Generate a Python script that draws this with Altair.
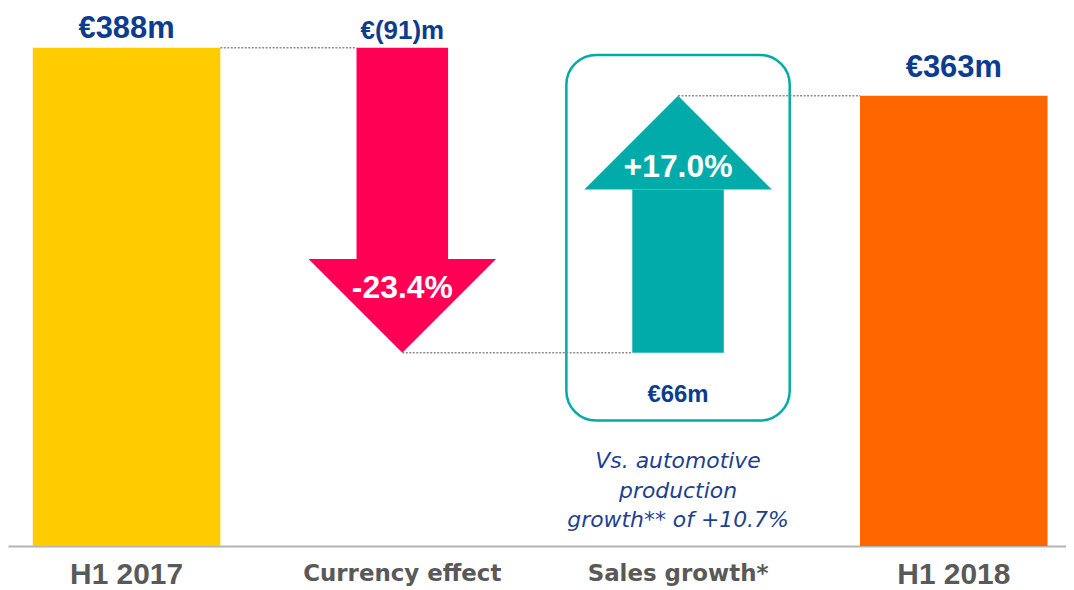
import altair as alt
import pandas as pd

# ---------------- data ----------------
categories = ["H1 2017", "Currency effect", "Sales growth*", "H1 2018"]
# levels as drawn on the slide (display units; the slide is not to scale)
start_level = 388.0      # H1 2017 bar top
after_currency = 150.4   # tip of the currency arrow
end_level = 350.5        # H1 2018 bar top / tip of sales-growth arrow
total_labels = ["€388m", "€363m"]
step_labels = ["€(91)m", "€66m"]
pct_labels = ["-23.4%", "+17.0%"]
note_lines = ["Vs. automotive", "production", "growth** of +10.7%"]
colors = ["#FFCC00", "#FF0055", "#00ABA9", "#FF6600"]

# ---------------- styles ----------------
BAR_HALF = 0.34
SHAFT_HALF = 0.166
HEAD_HALF = 0.34
HEAD_LEN = 73.0
BOX_HALF = 0.405
BOX_Y = (97.7, 382.3)
NAVY = "#0D3C8E"
GREY = "#595959"
W, H = 1062, 539

xs = alt.Scale(domain=[-0.43, 3.407], nice=False, zero=False)
ys = alt.Scale(domain=[0, 418], nice=False, zero=False)

# totals
bars = pd.DataFrame({
    "x0": [0 - BAR_HALF, 3 - BAR_HALF],
    "x1": [0 + BAR_HALF, 3 + BAR_HALF],
    "y0": [0, 0],
    "y1": [start_level, end_level],
    "color": [colors[0], colors[3]],
})

# arrows
steps = [(1, start_level, after_currency, colors[1]),
         (2, after_currency, end_level, colors[2])]
shaft_rows, head_rows = [], []
for idx, s, e, c in steps:
    d = 1 if e > s else -1
    base = e - d * HEAD_LEN
    shaft_rows.append({"x0": idx - SHAFT_HALF, "x1": idx + SHAFT_HALF,
                       "y0": s, "y1": base, "color": c})
    for xx, yy in [(idx - HEAD_HALF, base), (idx, e), (idx + HEAD_HALF, base)]:
        head_rows.append({"arrow": idx, "x": xx, "y": yy, "y2": base, "color": c})
shafts = pd.DataFrame(shaft_rows)
heads = pd.DataFrame(head_rows)

conn = pd.DataFrame({
    "x0": [0 + BAR_HALF, 1, 2],
    "x1": [1 - SHAFT_HALF, 2 - SHAFT_HALF, 3 - BAR_HALF],
    "y": [start_level, after_currency, end_level],
})

box = pd.DataFrame({"x0": [2 - BOX_HALF], "x1": [2 + BOX_HALF],
                    "y0": [BOX_Y[0]], "y1": [BOX_Y[1]]})

bar_layer = alt.Chart(bars).mark_rect().encode(
    x=alt.X("x0:Q", scale=xs, axis=alt.Axis(labels=False, ticks=False, grid=False,
                                            domain=True, domainColor="#B4B4B4",
                                            domainWidth=2, title=None)),
    x2="x1:Q",
    y=alt.Y("y0:Q", scale=ys, axis=None),
    y2="y1:Q",
    color=alt.Color("color:N", scale=None),
)
shaft_layer = alt.Chart(shafts).mark_rect().encode(
    x=alt.X("x0:Q", scale=xs), x2="x1:Q",
    y=alt.Y("y0:Q", scale=ys), y2="y1:Q",
    color=alt.Color("color:N", scale=None),
)
head_layer = alt.Chart(heads).mark_area(interpolate="linear").encode(
    x=alt.X("x:Q", scale=xs),
    y=alt.Y("y:Q", scale=ys), y2="y2:Q",
    detail="arrow:N",
    color=alt.Color("color:N", scale=None),
)
box_layer = alt.Chart(box).mark_rect(filled=False, stroke=colors[2], strokeWidth=2.5,
                                     cornerRadius=30).encode(
    x=alt.X("x0:Q", scale=xs), x2="x1:Q",
    y=alt.Y("y0:Q", scale=ys), y2="y1:Q",
)
conn_layer = alt.Chart(conn).mark_rule(color="#8C8C8C", strokeDash=[2, 1.5],
                                       strokeWidth=1.5).encode(
    x=alt.X("x0:Q", scale=xs), x2="x1:Q",
    y=alt.Y("y:Q", scale=ys),
)


def label(x, y, text, dy, size, color, font="Liberation Sans", weight="bold",
          style="normal", **kw):
    df = pd.DataFrame({"x": [x], "y": [y], "t": [text]})
    return alt.Chart(df).mark_text(dy=dy, fontSize=size, color=color, font=font,
                                   fontWeight=weight, fontStyle=style,
                                   baseline="alphabetic", align="center", **kw).encode(
        x=alt.X("x:Q", scale=xs), y=alt.Y("y:Q", scale=ys), text="t:N")


texts = [
    label(0, start_level, total_labels[0], -10, 31, NAVY),
    label(1, start_level, step_labels[0], -9, 26, NAVY),
    label(3, end_level, total_labels[1], -19, 31, NAVY),
    label(2, after_currency, step_labels[1], 49, 24, NAVY),
    label(1, after_currency + HEAD_LEN, pct_labels[0], 39, 32, "white"),
    label(2, end_level - HEAD_LEN, pct_labels[1], -13, 32, "white"),
    label(2, 0, "\n".join(note_lines), -78, 22, "#1F3F8F", font="DejaVu Sans",
          weight="normal", style="italic", lineBreak="\n", lineHeight=29.5),
    label(0, 0, categories[0], 38, 30, GREY),
    label(3, 0, categories[3], 38, 30, GREY),
    label(1, 0, categories[1], 35, 23, GREY, font="DejaVu Sans"),
    label(2, 0, categories[2], 35, 23, GREY, font="DejaVu Sans"),
]

chart = alt.layer(bar_layer, shaft_layer, head_layer, box_layer, conn_layer, *texts).properties(
    width=W, height=H, padding=0
).configure_view(stroke=None)

chart.save("out.html", embed_options={"renderer": "svg", "actions": False})
